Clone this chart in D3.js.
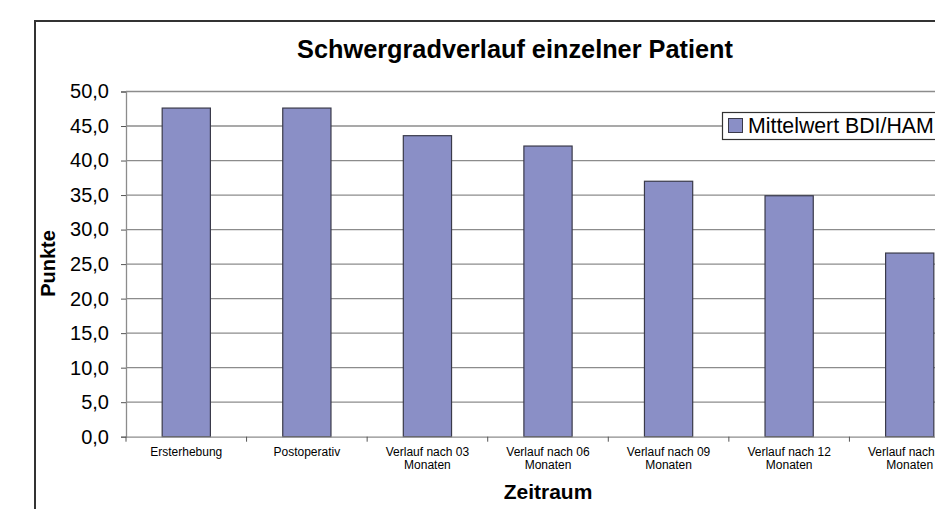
<!DOCTYPE html>
<html><head><meta charset="utf-8">
<script src="https://cdn.jsdelivr.net/npm/d3@7"></script>
<style>
html,body{margin:0;padding:0;background:#fff;}
svg text{font-family:"Liberation Sans",Arial,Helvetica,sans-serif;}
</style></head>
<body>
<svg id="c" width="935" height="509"></svg>
<script>
const categories = [
  ["Ersterhebung"],
  ["Postoperativ"],
  ["Verlauf nach 03","Monaten"],
  ["Verlauf nach 06","Monaten"],
  ["Verlauf nach 09","Monaten"],
  ["Verlauf nach 12","Monaten"],
  ["Verlauf nach 18","Monaten"]
];
const values = [47.6, 47.6, 43.6, 42.1, 37.0, 34.9, 26.6];
const yTicks = [0,5,10,15,20,25,30,35,40,45,50];
const seriesName = "Mittelwert BDI/HAM";
const title = "Schwergradverlauf einzelner Patient";
const xTitle = "Zeitraum";
const yTitle = "Punkte";

const svg = d3.select("#c");
const plot = {left:126, right:970, top:91.5, bottom:436.7};

// chart border
svg.append("rect").attr("x",35).attr("y",21).attr("width",1000).attr("height",600)
  .attr("fill","none").attr("stroke","#333").attr("stroke-width",2);

const x = d3.scaleBand().domain(d3.range(categories.length)).range([plot.left, plot.right]).paddingInner(0.6).paddingOuter(0.3);
const xb = d3.scaleBand().domain(d3.range(categories.length)).range([plot.left, plot.right]);
const y = d3.scaleLinear().domain([0,50]).range([plot.bottom, plot.top]);

// gridlines
svg.append("g").selectAll("line").data(yTicks.filter(d=>d>0)).join("line")
  .attr("x1",plot.left).attr("x2",plot.right)
  .attr("y1",d=>y(d)).attr("y2",d=>y(d))
  .attr("stroke","#8c8c8c").attr("stroke-width",1.3);

// y axis
const yAxis = svg.append("g").attr("transform",`translate(${plot.left},0)`)
  .call(d3.axisLeft(y).tickValues(yTicks).tickSize(5).tickPadding(12)
    .tickFormat(d=>d3.format(".1f")(d).replace(".",",")));
yAxis.select(".domain").attr("stroke","#8c8c8c").attr("stroke-width",1.3);
yAxis.selectAll(".tick line").attr("stroke","#555");
yAxis.selectAll("text").attr("font-size",20).attr("fill","#000")
  .attr("font-family","Liberation Sans, Arial, sans-serif");

// bars
svg.append("g").selectAll("rect").data(values).join("rect")
  .attr("x",(d,i)=>x(i)).attr("width",x.bandwidth())
  .attr("y",d=>y(d)).attr("height",d=>y(0)-y(d))
  .attr("fill","#8a8fc6").attr("stroke","#3a3a4a").attr("stroke-width",1.2);

// x axis
const xAxis = svg.append("g").attr("transform",`translate(0,${plot.bottom})`)
  .call(d3.axisBottom(xb).tickSize(0).tickFormat(""));
xAxis.select(".domain").attr("stroke","#8c8c8c").attr("stroke-width",1.3);
svg.append("g").selectAll("line").data(d3.range(categories.length+1)).join("line")
  .attr("x1",i=>plot.left+i*xb.step()).attr("x2",i=>plot.left+i*xb.step())
  .attr("y1",plot.bottom).attr("y2",plot.bottom+5).attr("stroke","#555");
const lab = svg.append("g").selectAll("text").data(categories).join("text")
  .attr("x",(d,i)=>xb(i)+xb.bandwidth()/2).attr("y",456)
  .attr("text-anchor","middle").attr("font-size",12).attr("fill","#000");
lab.selectAll("tspan").data(d=>d).join("tspan")
  .attr("x",function(){return this.parentNode.getAttribute("x");})
  .attr("dy",(d,i)=>i?13:0).text(d=>d);

// titles
svg.append("text").attr("x",515).attr("y",58).attr("text-anchor","middle")
  .attr("font-size",25.3).attr("font-weight","bold").text(title);
svg.append("text").attr("x",(plot.left+plot.right)/2).attr("y",499).attr("text-anchor","middle")
  .attr("font-size",21).attr("font-weight","bold").text(xTitle);
svg.append("text").attr("transform","translate(55,263.5) rotate(-90)").attr("text-anchor","middle")
  .attr("font-size",20).attr("font-weight","bold").text(yTitle);

// legend
const lg = svg.append("g");
lg.append("rect").attr("x",722.5).attr("y",112.5).attr("width",240).attr("height",27)
  .attr("fill","#fff").attr("stroke","#333").attr("stroke-width",1.2);
lg.append("rect").attr("x",728.5).attr("y",118.5).attr("width",14).attr("height",14)
  .attr("fill","#8a8fc6").attr("stroke","#3a3a4a");
lg.append("text").attr("x",748).attr("y",133).attr("font-size",21.3).attr("fill","#000").text(seriesName);
</script>
</body></html>
